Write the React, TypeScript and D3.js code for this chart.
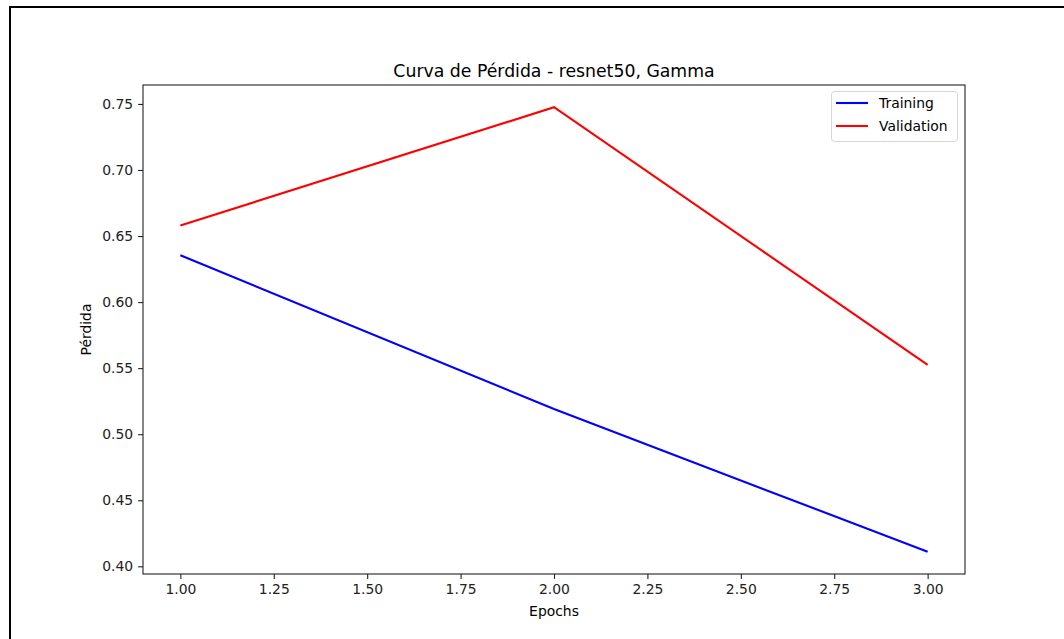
import React, { useEffect, useRef } from "react";
import * as d3 from "d3";

const epochs = [1, 2, 3];
const training = [0.6355, 0.519, 0.411];
const validation = [0.658, 0.7475, 0.5525];
const xTicks = [1.0, 1.25, 1.5, 1.75, 2.0, 2.25, 2.5, 2.75, 3.0];
const yTicks = [0.4, 0.45, 0.5, 0.55, 0.6, 0.65, 0.7, 0.75];

const W = 1064;
const H = 639;
const FONT = "DejaVu Sans, sans-serif";

export default function App() {
  const ref = useRef<SVGSVGElement | null>(null);

  useEffect(() => {
    const svg = d3.select(ref.current);
    svg.selectAll("*").remove();

    const left = 143, right = 965, top = 85, bottom = 574;

    const all = training.concat(validation);
    const yMin = d3.min(all) as number;
    const yMax = d3.max(all) as number;
    const yPad = (yMax - yMin) * 0.05;
    const xPad = (epochs[epochs.length - 1] - epochs[0]) * 0.05;

    const x = d3.scaleLinear()
      .domain([epochs[0] - xPad, epochs[epochs.length - 1] + xPad])
      .range([left, right]);
    const y = d3.scaleLinear()
      .domain([yMin - yPad, yMax + yPad])
      .range([bottom, top]);

    // outer frame, only top and left edges show
    svg.append("rect")
      .attr("x", 10).attr("y", 7)
      .attr("width", W + 20).attr("height", H + 20)
      .attr("fill", "white")
      .attr("stroke", "black")
      .attr("stroke-width", 2);

    svg.append("text")
      .attr("x", (left + right) / 2)
      .attr("y", 77)
      .attr("text-anchor", "middle")
      .attr("font-family", FONT)
      .attr("font-size", 17.3)
      .attr("fill", "black")
      .text("Curva de Pérdida - resnet50, Gamma");

    const xAxis = svg.append("g")
      .attr("transform", `translate(0,${bottom})`)
      .call(d3.axisBottom(x).tickValues(xTicks).tickFormat(d3.format(".2f")).tickSize(4.9).tickPadding(4.9));
    const yAxis = svg.append("g")
      .attr("transform", `translate(${left},0)`)
      .call(d3.axisLeft(y).tickValues(yTicks).tickFormat(d3.format(".2f")).tickSize(4.9).tickPadding(4.9));

    [xAxis, yAxis].forEach(g => {
      g.select(".domain").remove();
      g.selectAll("line").attr("stroke", "#222").attr("stroke-width", 1.1);
      g.selectAll("text")
        .attr("font-family", FONT)
        .attr("font-size", 13.9)
        .attr("fill", "#222");
    });

    const line = d3.line<number>()
      .x((d, i) => x(epochs[i]))
      .y(d => y(d));

    svg.append("path")
      .datum(training)
      .attr("d", line)
      .attr("fill", "none")
      .attr("stroke", "#0000ff")
      .attr("stroke-width", 2.1);

    svg.append("path")
      .datum(validation)
      .attr("d", line)
      .attr("fill", "none")
      .attr("stroke", "#ff0000")
      .attr("stroke-width", 2.1);

    svg.append("rect")
      .attr("x", left).attr("y", top)
      .attr("width", right - left).attr("height", bottom - top)
      .attr("fill", "none")
      .attr("stroke", "#222")
      .attr("stroke-width", 1.1);

    svg.append("text")
      .attr("x", (left + right) / 2)
      .attr("y", 616)
      .attr("text-anchor", "middle")
      .attr("font-family", FONT)
      .attr("font-size", 13.9)
      .attr("fill", "black")
      .text("Epochs");

    svg.append("text")
      .attr("transform", `translate(91,${(top + bottom) / 2}) rotate(-90)`)
      .attr("text-anchor", "middle")
      .attr("font-family", FONT)
      .attr("font-size", 13.9)
      .attr("fill", "black")
      .text("Pérdida");

    // legend
    const legend = svg.append("g");
    legend.append("rect")
      .attr("x", 831.5).attr("y", 91.5)
      .attr("width", 126).attr("height", 50)
      .attr("rx", 3)
      .attr("fill", "white")
      .attr("fill-opacity", 0.8)
      .attr("stroke", "#d6d6d6")
      .attr("stroke-width", 1);
    const items = [
      { name: "Training", color: "#0000ff" },
      { name: "Validation", color: "#ff0000" },
    ];
    items.forEach((it, i) => {
      const cy = 103 + i * 23;
      legend.append("line")
        .attr("x1", 836).attr("x2", 868)
        .attr("y1", cy).attr("y2", cy)
        .attr("stroke", it.color)
        .attr("stroke-width", 2.1);
      legend.append("text")
        .attr("x", 879)
        .attr("y", cy + 5)
        .attr("font-family", FONT)
        .attr("font-size", 13.9)
        .attr("fill", "black")
        .text(it.name);
    });
  }, []);

  return (
    <svg
      ref={ref}
      width={W}
      height={H}
      style={{ position: "absolute", left: 0, top: 0, background: "white" }}
    />
  );
}
